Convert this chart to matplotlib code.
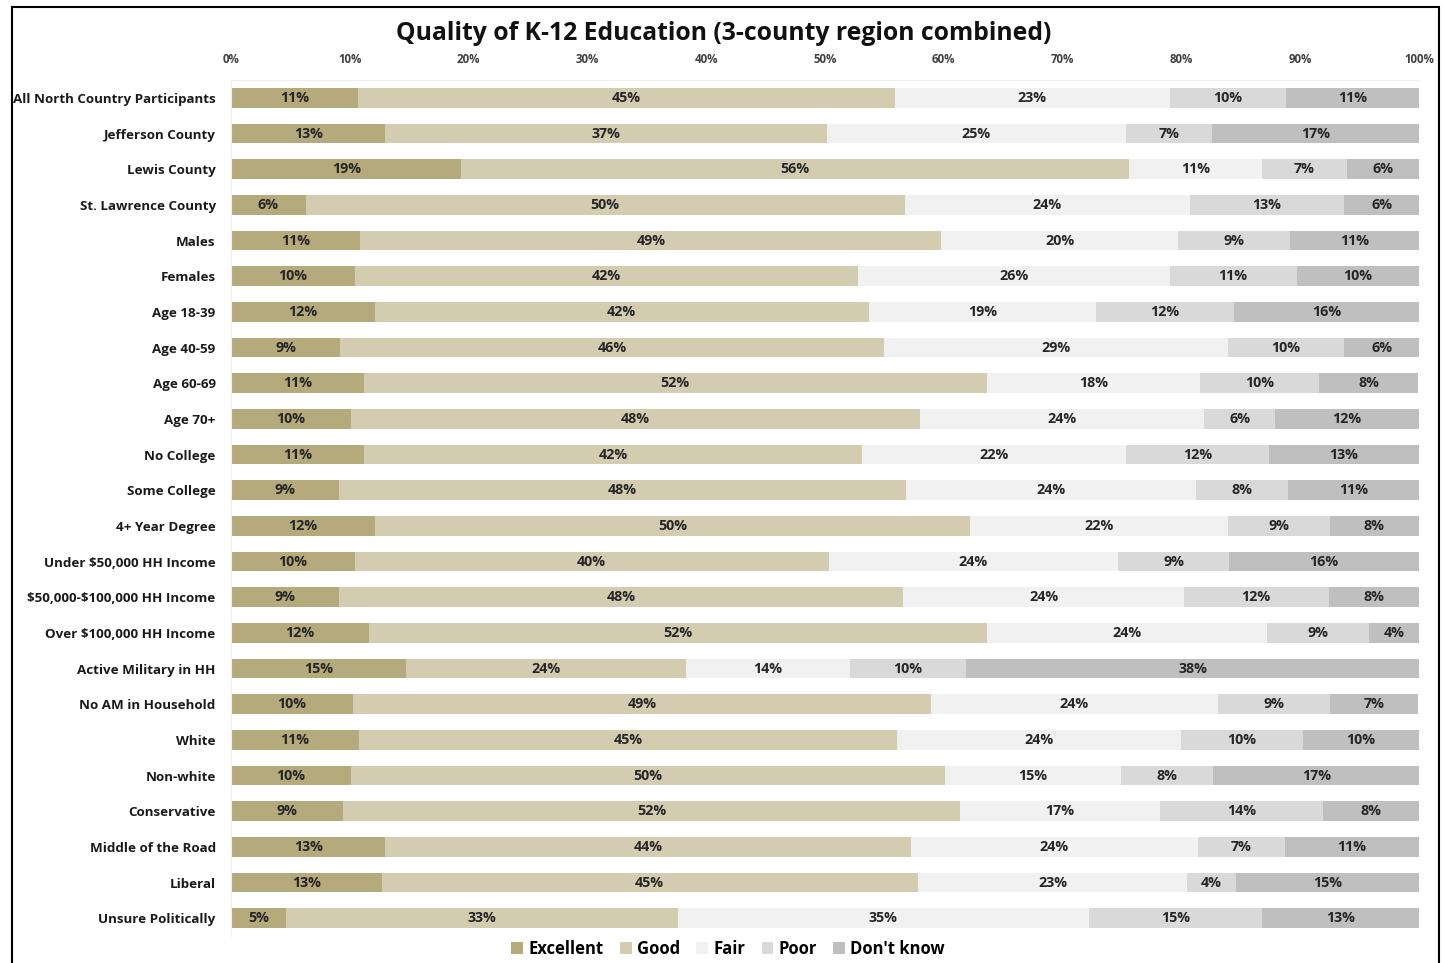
import matplotlib
matplotlib.use("Agg")
import matplotlib.pyplot as plt
from matplotlib.patches import Rectangle
import numpy as np

plt.rcParams["font.family"] = ["Open Sans", "DejaVu Sans"]
plt.rcParams["text.parse_math"] = False

groups = [
    "All North Country Participants", "Jefferson County", "Lewis County",
    "St. Lawrence County", "Males", "Females", "Age 18-39", "Age 40-59",
    "Age 60-69", "Age 70+", "No College", "Some College", "4+ Year Degree",
    "Under $50,000 HH Income", "$50,000-$100,000 HH Income",
    "Over $100,000 HH Income", "Active Military in HH", "No AM in Household",
    "White", "Non-white", "Conservative", "Middle of the Road", "Liberal",
    "Unsure Politically",
]

excellent = [10.7, 13.0, 19.4, 6.3, 10.9, 10.4, 12.1, 9.2, 11.2, 10.1, 11.2, 9.1,
             12.1, 10.4, 9.1, 11.6, 14.7, 10.3, 10.8, 10.1, 9.4, 13.0, 12.7, 4.6]
good = [45.2, 37.2, 56.2, 50.4, 48.9, 42.4, 41.6, 45.8, 52.4, 47.9, 41.9, 47.7,
        50.1, 39.9, 47.5, 52.0, 23.6, 48.6, 45.3, 50.0, 52.0, 44.2, 45.1, 33.0]
fair = [23.1, 25.1, 11.2, 24.0, 19.9, 26.2, 19.1, 28.9, 18.0, 23.9, 22.2, 24.4,
        21.7, 24.4, 23.6, 23.6, 13.8, 24.2, 23.9, 14.8, 16.8, 24.2, 22.7, 34.6]
poor = [9.8, 7.3, 7.1, 13.0, 9.4, 10.7, 11.6, 9.8, 10.0, 6.0, 12.1, 7.8,
        8.6, 9.3, 12.2, 8.6, 9.8, 9.4, 10.2, 7.8, 13.7, 7.3, 4.1, 14.6]
dont_know = [11.2, 17.4, 6.1, 6.3, 10.9, 10.3, 15.6, 6.3, 8.3, 12.1, 12.6, 11.0,
             7.6, 16.0, 7.6, 4.2, 38.1, 7.4, 9.8, 17.3, 8.1, 11.3, 15.4, 13.2]

series = {"Excellent": excellent, "Good": good, "Fair": fair,
          "Poor": poor, "Don't know": dont_know}
colors = ["#B5AA7C", "#D3CCB0", "#F1F1F1", "#D9D9D9", "#BFBFBF"]

fig = plt.figure(figsize=(14.47, 9.63), dpi=100)
ax = fig.add_axes([231 / 1447, 1 - 936 / 963, (1419 - 231) / 1447, (936 - 80) / 963])

y = np.arange(len(groups))
left = np.zeros(len(groups))
for (name, vals), c in zip(series.items(), colors):
    vals = np.array(vals)
    bars = ax.barh(y, vals, left=left, height=0.56, color=c, label=name)
    ax.bar_label(bars, labels=[f"{v:.0f}%" for v in vals], label_type="center",
                 fontsize=10.3, fontweight="bold", color="#262626")
    left += vals

ax.set_xlim(0, 100)
ax.set_ylim(len(groups) - 0.5, -0.5)
ax.set_yticks(y)
ax.set_yticklabels(groups, fontsize=9.6, fontweight="bold", color="#1a1a1a")
ax.set_xticks(np.arange(0, 101, 10))
ax.set_xticklabels([f"{t}%" for t in range(0, 101, 10)], fontsize=8.3,
                   fontweight="bold", color="#404040")
ax.xaxis.tick_top()
ax.tick_params(length=0)
ax.tick_params(axis="x", pad=10)
ax.tick_params(axis="y", pad=11)
for s in ["right", "bottom"]:
    ax.spines[s].set_visible(False)
for s in ["top", "left"]:
    ax.spines[s].set_color("#EEEEEE")

fig.suptitle("Quality of K-12 Education (3-county region combined)", x=0.50,
             y=1 - 34 / 963, va="center", fontsize=17.8, fontweight="bold", color="#111111")

fig.legend(loc="center", bbox_to_anchor=(728 / 1447, 1 - 949 / 963), ncol=5,
           frameon=False, prop={"weight": "bold", "size": 12},
           handlelength=0.7, handleheight=0.7, handletextpad=0.3, columnspacing=1.0,
           borderaxespad=0)

fig.patches.append(Rectangle((12 / 1447, -0.02), (1439 - 12) / 1447, 1.02 - 7 / 963,
                             transform=fig.transFigure, fill=False,
                             edgecolor="black", linewidth=1.5))

fig.savefig("out.png", dpi=100)
